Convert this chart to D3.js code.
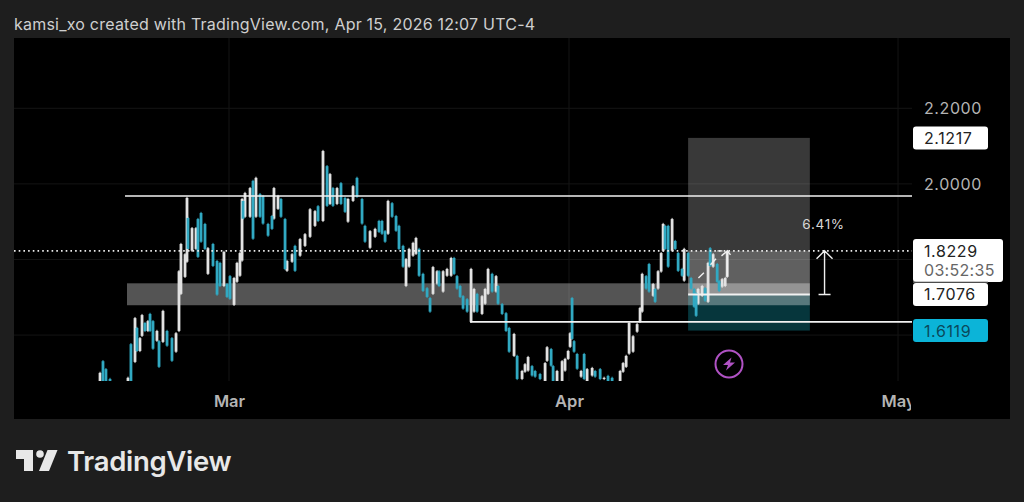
<!DOCTYPE html>
<html><head><meta charset="utf-8">
<script src="https://cdn.jsdelivr.net/npm/d3@7/dist/d3.min.js"></script>
<style>html,body{margin:0;padding:0;background:#1e1e1e;overflow:hidden}svg{display:block}text{font-family:Inter,"Noto Sans",sans-serif}</style>
</head><body><svg id="c" width="1024" height="502"></svg>
<script>
const titleText = "kamsi_xo created with TradingView.com, Apr 15, 2026 12:07 UTC-4";
const monthTicks = [new Date(Date.UTC(2026,2,1)), new Date(Date.UTC(2026,3,1)), new Date(Date.UTC(2026,4,1))];
const monthLabels = ["Mar","Apr","May"];
const priceTicks = [2.2, 2.0];
const gridPrices = [2.2, 2.0, 1.8, 1.6];
// bar time, in days after 1 March 2026
const days = [
-11.76,-11.49,-11.22,-10.85,-9.21,-8.94,-8.57,-8.39,-8.12,-7.93,
-7.66,-7.39,-7.20,-6.93,-6.57,-6.38,-6.02,-5.65,-5.20,-4.83,
-4.56,-4.38,-4.01,-3.83,-3.74,-3.37,-3.01,-2.83,-2.55,-2.19,
-1.92,-1.46,-1.09,-0.82,-0.46,-0.18,0.09,0.46,0.73,1.00,
1.19,1.28,1.46,1.92,2.19,2.46,2.83,3.10,3.56,3.92,
4.10,4.47,4.74,5.11,5.29,5.75,6.02,6.48,6.93,7.39,
7.84,8.12,8.57,8.94,9.21,9.48,9.85,10.21,10.58,10.85,
11.31,11.67,12.13,12.40,12.86,13.32,13.68,13.95,14.23,14.50,
14.87,15.23,15.50,15.87,16.14,16.42,16.78,17.05,17.33,17.69,
18.06,18.33,18.60,18.97,19.15,19.52,19.88,20.25,20.52,20.79,
21.07,21.34,21.71,22.07,22.34,22.62,23.07,23.35,23.62,23.99,
24.35,24.53,24.90,25.26,25.54,25.99,26.27,26.72,26.99,27.27,
27.63,27.91,28.36,28.82,29.00,29.37,29.55,29.91,30.37,30.64,
30.92,31.10,31.28,31.46,31.74,32.10,32.38,32.65,33.11,33.38,
33.84,34.20,34.56,34.93,35.66,35.93,36.21,36.48,36.84,37.21,
37.48,37.67,38.03,38.30,38.67,38.85,39.12,39.40,39.58,39.76,
40.04,40.40,40.68,40.95,41.31,41.50,41.86,42.13,42.41,42.59,
42.77,43.14,43.41,43.68,43.87,44.14,44.51,44.69,44.96,45.24,45.42];
const highs = [
1.503,1.534,1.513,1.487,1.490,1.579,1.648,1.622,1.595,1.656,
1.635,1.640,1.659,1.640,1.614,1.587,1.667,1.614,1.595,1.608,
1.772,1.844,1.817,1.966,1.913,1.886,1.886,1.910,1.926,1.897,
1.833,1.844,1.799,1.794,1.823,1.738,1.759,1.754,1.794,1.820,
1.963,1.958,1.979,1.992,2.011,2.019,1.976,1.971,1.897,1.918,
1.992,1.971,1.963,1.910,1.799,1.817,1.839,1.857,1.870,1.936,
1.931,1.944,2.090,2.050,2.029,1.992,1.992,2.005,1.966,1.963,
1.997,2.019,1.963,1.892,1.878,1.884,1.905,1.905,1.878,1.958,
1.952,1.918,1.892,1.839,1.804,1.831,1.847,1.860,1.831,1.765,
1.727,1.701,1.783,1.772,1.772,1.772,1.778,1.807,1.807,1.759,
1.733,1.706,1.698,1.778,1.725,1.712,1.706,1.725,1.778,1.765,
1.759,1.733,1.685,1.661,1.622,1.606,1.548,1.508,1.526,1.545,
1.521,1.508,1.500,1.529,1.571,1.566,1.521,1.508,1.534,1.540,
1.561,1.608,1.701,1.587,1.553,1.508,1.553,1.513,1.516,1.508,
1.513,1.490,1.495,1.490,1.508,1.529,1.548,1.635,1.600,1.632,
1.675,1.765,1.759,1.791,1.738,1.725,1.772,1.820,1.897,1.892,
1.892,1.910,1.852,1.820,1.778,1.831,1.820,1.754,1.725,1.714,
1.725,1.733,1.727,1.794,1.833,1.817,1.791,1.746,1.751,1.754,1.823];
const lows = [
1.47,1.47,1.47,1.47,1.47,1.47,1.526,1.555,1.555,1.595,
1.608,1.608,1.608,1.561,1.582,1.513,1.579,1.569,1.529,1.553,
1.608,1.706,1.751,1.791,1.825,1.820,1.825,1.804,1.844,1.825,
1.759,1.780,1.704,1.727,1.727,1.698,1.693,1.677,1.738,1.754,
1.794,1.905,1.910,1.910,1.852,1.910,1.910,1.892,1.860,1.878,
1.905,1.931,1.910,1.772,1.767,1.791,1.767,1.807,1.833,1.857,
1.886,1.899,1.899,1.939,1.944,1.939,1.944,1.944,1.923,1.897,
1.952,1.963,1.892,1.844,1.828,1.857,1.870,1.865,1.844,1.865,
1.910,1.873,1.825,1.778,1.727,1.778,1.807,1.812,1.754,1.714,
1.698,1.659,1.706,1.733,1.727,1.712,1.754,1.754,1.759,1.720,
1.698,1.667,1.659,1.632,1.659,1.659,1.653,1.680,1.706,1.712,
1.712,1.680,1.653,1.608,1.553,1.542,1.481,1.481,1.500,1.503,
1.490,1.487,1.481,1.47,1.529,1.516,1.47,1.47,1.47,1.503,
1.534,1.566,1.587,1.553,1.508,1.487,1.481,1.47,1.490,1.487,
1.481,1.481,1.47,1.47,1.47,1.500,1.513,1.548,1.553,1.606,
1.632,1.659,1.720,1.712,1.701,1.685,1.720,1.765,1.820,1.825,
1.778,1.820,1.825,1.767,1.754,1.741,1.754,1.720,1.672,1.648,
1.680,1.701,1.688,1.685,1.780,1.778,1.738,1.714,1.725,1.727,1.751];
const opens = [
1.47,1.531,1.510,1.484,1.47,1.576,1.529,1.619,1.558,1.598,
1.632,1.611,1.656,1.637,1.585,1.584,1.582,1.611,1.592,1.556,
1.611,1.709,1.754,1.794,1.910,1.823,1.828,1.907,1.923,1.894,
1.762,1.841,1.796,1.791,1.730,1.735,1.756,1.680,1.741,1.757,
1.797,1.955,1.913,1.913,2.008,1.913,1.973,1.968,1.894,1.915,
1.908,1.934,1.960,1.907,1.770,1.794,1.836,1.810,1.836,1.860,
1.889,1.941,1.902,2.047,1.947,1.989,1.947,2.002,1.963,1.900,
1.955,2.016,1.960,1.889,1.831,1.860,1.902,1.902,1.875,1.868,
1.949,1.915,1.889,1.836,1.730,1.781,1.810,1.815,1.828,1.762,
1.724,1.698,1.709,1.736,1.769,1.715,1.757,1.757,1.804,1.756,
1.730,1.703,1.695,1.635,1.662,1.709,1.656,1.683,1.709,1.762,
1.715,1.730,1.682,1.658,1.619,1.545,1.545,1.484,1.503,1.506,
1.518,1.505,1.497,1.47,1.532,1.563,1.518,1.47,1.47,1.506,
1.537,1.569,1.698,1.584,1.550,1.490,1.550,1.47,1.493,1.505,
1.510,1.484,1.492,1.487,1.47,1.503,1.516,1.551,1.556,1.609,
1.635,1.662,1.756,1.788,1.704,1.722,1.723,1.768,1.823,1.889,
1.889,1.823,1.849,1.817,1.775,1.744,1.817,1.751,1.722,1.711,
1.683,1.704,1.724,1.688,1.830,1.781,1.788,1.743,1.728,1.730,1.754];
const closes = [
1.500,1.47,1.47,1.47,1.487,1.47,1.645,1.558,1.592,1.653,
1.611,1.637,1.611,1.564,1.611,1.516,1.664,1.572,1.532,1.605,
1.769,1.841,1.814,1.963,1.828,1.883,1.883,1.807,1.847,1.828,
1.830,1.783,1.707,1.730,1.820,1.701,1.696,1.751,1.791,1.817,
1.960,1.908,1.976,1.989,1.855,2.016,1.913,1.895,1.863,1.881,
1.989,1.968,1.913,1.775,1.796,1.814,1.770,1.854,1.867,1.933,
1.928,1.902,2.087,1.942,2.026,1.942,1.989,1.947,1.926,1.960,
1.994,1.966,1.895,1.847,1.875,1.881,1.873,1.868,1.847,1.955,
1.913,1.876,1.828,1.781,1.801,1.828,1.844,1.857,1.757,1.717,
1.701,1.662,1.780,1.769,1.730,1.769,1.775,1.804,1.762,1.723,
1.701,1.670,1.662,1.775,1.722,1.662,1.703,1.722,1.775,1.715,
1.756,1.683,1.656,1.611,1.556,1.603,1.484,1.505,1.523,1.542,
1.493,1.490,1.484,1.526,1.568,1.519,1.47,1.505,1.531,1.537,
1.558,1.605,1.590,1.556,1.511,1.505,1.484,1.510,1.513,1.490,
1.484,1.487,1.47,1.47,1.505,1.526,1.545,1.632,1.597,1.629,
1.672,1.762,1.723,1.715,1.735,1.688,1.769,1.817,1.894,1.828,
1.781,1.907,1.828,1.770,1.757,1.828,1.757,1.723,1.675,1.651,
1.722,1.730,1.691,1.791,1.783,1.814,1.741,1.717,1.748,1.751,1.8229];
// drawings, in chart values
const resistancePrice = 1.968, resistanceStartDay = -9.48;
const supportPrice = 1.635, supportStartDay = 21.98;
const zoneTop = 1.737, zoneBottom = 1.679, zoneStartDay = -9.3;
const posStartDay = 41.86, posEndDay = 52.96;
const targetPrice = 2.1217, entryPrice = 1.7076, stopPrice = 1.6119, lastPrice = 1.8229;
const measureDay = 54.3, measureLabel = "6.41%", countdown = "03:52:35";
const pathDays = [42.8, 43.3, 43.9, 44.4];   // dashes of the hand drawn arrow
const pathPrices = [1.751, 1.765, 1.786, 1.802];

const svg = d3.select("#c");
const W=1024,H=502,plotL=14,plotT=38,plotR=912,plotB=381,panelR=1010,panelB=419;
const UP="#e2e2e2", DOWN="#31a9c2";
const x = d3.scaleUtc().domain([monthTicks[0],monthTicks[1]]).range([229,569]);
const xd = d => x(new Date(+monthTicks[0]+d*864e5));
const y = d3.scaleLinear().domain([2.2,1.6]).range([108.3,335.1]);

svg.append("rect").attr("width",W).attr("height",H).attr("fill","#1e1e1e");
svg.append("rect").attr("x",plotL).attr("y",plotT).attr("width",panelR-plotL).attr("height",panelB-plotT).attr("fill","#000");
svg.append("text").attr("x",14).attr("y",29.5).attr("fill","#cfcfcf").attr("font-size",16).attr("letter-spacing",0.22).text(titleText);

const defs=svg.append("defs");
defs.append("clipPath").attr("id","bars").append("rect").attr("x",plotL).attr("y",plotT).attr("width",plotR-plotL).attr("height",plotB-plotT);
defs.append("clipPath").attr("id","time").append("rect").attr("x",plotL).attr("y",plotB).attr("width",plotR-1-plotL).attr("height",panelB-plotB);

// grid
svg.append("g").selectAll("line").data(gridPrices).join("line")
 .attr("x1",plotL).attr("x2",plotR).attr("y1",y).attr("y2",y).attr("stroke","#141414");
svg.append("g").selectAll("line").data(monthTicks).join("line")
 .attr("x1",x).attr("x2",x).attr("y1",plotT).attr("y2",plotB).attr("stroke","#141414");

// position tool
const bx=xd(posStartDay), bw=xd(posEndDay)-bx;
const band=(t,b,fill,op,xs,w)=>svg.append("rect").attr("x",xs).attr("width",w).attr("y",y(t)).attr("height",y(b)-y(t)).attr("fill",fill).attr("fill-opacity",op);
band(targetPrice,entryPrice,"#fff",0.225,bx,bw);
band(lastPrice,entryPrice,"#fff",0.2,bx,bw);
band(entryPrice,stopPrice,"#06363c",1,bx,bw);
// zone
const zx=xd(zoneStartDay);
band(zoneTop,zoneBottom,"#fff",0.33,zx,bx+bw-zx);

// candles: rising bars first, falling bars over them
const gBars=svg.append("g").attr("clip-path","url(#bars)");
const isUp=i=>closes[i]>=opens[i];
const idx=d3.range(days.length).sort((a,b)=>d3.descending(isUp(a),isUp(b)));
gBars.selectAll("line.w").data(idx).join("line").attr("class","w")
 .attr("x1",i=>xd(days[i])).attr("x2",i=>xd(days[i])).attr("y1",i=>y(highs[i])).attr("y2",i=>y(lows[i]))
 .attr("stroke",i=>isUp(i)?UP:DOWN).attr("stroke-width",1);
gBars.selectAll("rect").data(idx).join("rect")
 .attr("x",i=>xd(days[i])-1.4).attr("width",2.8)
 .attr("y",i=>y(Math.max(opens[i],closes[i])))
 .attr("height",i=>Math.abs(y(opens[i])-y(closes[i])))
 .attr("fill",i=>isUp(i)?UP:DOWN);

// lines
const hl=(x1,x2,p,sw,c)=>svg.append("line").attr("x1",x1).attr("x2",x2).attr("y1",y(p)).attr("y2",y(p)).attr("stroke",c||"#f2f2f2").attr("stroke-width",sw);
hl(xd(resistanceStartDay),plotR,resistancePrice,1.6);
hl(xd(supportStartDay),plotR,supportPrice,1.6);
hl(bx,bx+bw,entryPrice,2);
hl(plotL,plotR,lastPrice,1.6,"#eeeeee").attr("stroke-dasharray","1.6,3.1");

// hand drawn arrow
const WHITE="#f0f0f0";
for(let i=0;i<pathDays.length;i+=2){
 svg.append("line").attr("x1",xd(pathDays[i])).attr("y1",y(pathPrices[i])).attr("x2",xd(pathDays[i+1])).attr("y2",y(pathPrices[i+1])).attr("stroke",WHITE).attr("stroke-width",1.4);
}
const ax=xd(45.45);
svg.append("path").attr("fill","none").attr("stroke",WHITE).attr("stroke-width",1.4)
 .attr("d",d3.line()([[ax,y(1.755)],[ax,y(lastPrice)]])+d3.line()([[ax-6,y(lastPrice)+5],[ax,y(lastPrice)],[ax+3,y(lastPrice)+4]])+d3.line()([[ax-10,y(lastPrice)],[ax-5,y(lastPrice)]]));

// measure arrow
const mx=xd(measureDay);
svg.append("path").attr("fill","none").attr("stroke",WHITE).attr("stroke-width",1.4)
 .attr("d",d3.line()([[mx,y(entryPrice)],[mx,y(lastPrice)]])+d3.line()([[mx-8,y(lastPrice)+8],[mx,y(lastPrice)],[mx+8,y(lastPrice)+8]])+d3.line()([[mx-6,y(entryPrice)],[mx+6,y(entryPrice)]]));
svg.append("text").attr("x",mx-1).attr("y",229).attr("text-anchor","middle").attr("fill","#d8d8d8").attr("font-size",13.5).attr("letter-spacing",0.7).text(measureLabel);

// lightning badge
const bdg=svg.append("g").attr("transform","translate(729,364)");
bdg.append("circle").attr("r",13.5).attr("fill","none").attr("stroke","#b052c4").attr("stroke-width",2);
bdg.append("path").attr("d","M2.5,-6.5 L-6,1 L-1,1 L-3,6.5 L6,-1.5 L1,-1.5 Z").attr("fill","#b052c4");

// time axis
const gx=svg.append("g").attr("clip-path","url(#time)");
const axT=d3.axisBottom(x).tickValues(monthTicks).tickSize(0).tickPadding(0).tickFormat((d,i)=>monthLabels[i]);
gx.append("g").attr("transform",`translate(0,${plotB+26})`).call(axT)
 .call(g=>{g.select(".domain").remove();g.selectAll("text").attr("y",0).attr("dy",0).attr("fill","#b4b4b4").attr("font-size",16.5).attr("font-weight",600).style("font-family","Inter,sans-serif");});

// price axis
const axP=d3.axisRight(y).tickValues(priceTicks).tickSize(0).tickPadding(0).tickFormat(d3.format(".4f"));
svg.append("g").attr("transform","translate(924,0)").call(axP)
 .call(g=>{g.select(".domain").remove();g.selectAll("text").attr("x",0).attr("fill","#b4b4b4").attr("font-size",16).attr("letter-spacing",0.6).style("font-family","Inter,sans-serif");});

// price labels
const lbl=(p,txt,fill,col,h,w)=>{
 const cy=y(p);
 svg.append("rect").attr("x",913).attr("y",cy-11.5).attr("width",w||75).attr("height",h||23).attr("rx",3).attr("fill",fill);
 svg.append("text").attr("x",924).attr("y",cy+6).attr("fill",col).attr("font-size",16).attr("letter-spacing",0.6).text(txt);
};
lbl(targetPrice,d3.format(".4f")(targetPrice),"#fff","#222");
lbl(entryPrice,d3.format(".4f")(entryPrice),"#fff","#222");
svg.append("rect").attr("x",913).attr("y",239).attr("width",90).attr("height",43).attr("rx",3).attr("fill","#fff");
svg.append("line").attr("x1",913).attr("x2",988).attr("y1",282).attr("y2",282).attr("stroke","#999");
svg.append("text").attr("x",924).attr("y",256.5).attr("fill","#222").attr("font-size",16).attr("letter-spacing",0.6).text(d3.format(".4f")(lastPrice));
svg.append("text").attr("x",924).attr("y",276).attr("fill","#666").attr("font-size",16).attr("letter-spacing",0.3).text(countdown);
lbl(stopPrice,d3.format(".4f")(stopPrice),"#0bb4d8","#0a4a5c");

// brand
const logo=svg.append("g").attr("fill","#e8e8e8");
logo.append("path").attr("d","M16,450 H33 V471 H24 V459 H16 Z");
logo.append("circle").attr("cx",40).attr("cy",454).attr("r",3.8);
logo.append("path").attr("d","M47.5,450 H57.5 L49,471 H39 Z");
svg.append("text").attr("x",67).attr("y",471).attr("fill","#e8e8e8").attr("font-size",27.5).attr("font-weight",600).attr("letter-spacing",-0.3).text("TradingView");
</script></body></html>
